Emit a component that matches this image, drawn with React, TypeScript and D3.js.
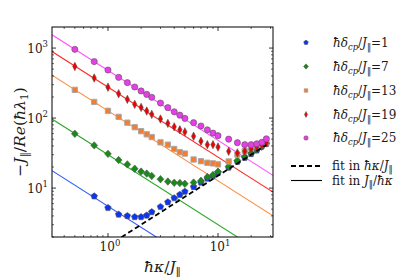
import React, { useRef, useEffect } from 'react'
import * as d3 from 'd3'

// hbar kappa / J values shared by every series
const xVals = [0.5, 0.75, 1, 1.25, 1.5, 1.75, 2, 2.25, 2.5, 3, 3.5, 4, 4.5, 5, 6, 7, 8, 9, 10, 12.5, 15, 17.5, 20, 22.5, 25, 27.5]

const blueVals = [7.64, 5.22, 4.2, 4.0, 3.87, 3.87, 4.07, 4.55, 5.4, 6.3, 7.2, 8.05, 8.9, 10.4, 12.0, 13.7, 14.9, 16.6, 19.6, 23.8, 27.1, 30.8, 34.6, 39.4, 43]
const greenVals = [59.6, 40.7, 30.8, 25.1, 21.8, 18.9, 17.2, 16.1, 14.9, 13.4, 12.4, 11.9, 11.8, 11.5, 12.0, 12.7, 14.4, 15.4, 17.2, 20.4, 24.8, 28.2, 31.6, 35.5, 39, 43.7]
const orangeVals = [253, 170, 127, 104, 86, 74, 65, 58.6, 53.5, 45, 41.7, 36.2, 32.5, 31.1, 25.6, 24.2, 23, 22.5, 21.8, 24, 30.1, 33.8, 37.4, 39.7, 41.7, 45]
const redVals = [546, 374, 276, 223, 185, 157, 142, 126, 113, 97, 84, 75, 68, 63.5, 55, 46.6, 41.7, 41.7, 38.6, 33.5, 31.8, 33.5, 36.2, 38.5, 41, 44]
const pinkVals = [959, 641, 486, 382, 321, 278, 244, 218, 198, 164, 141, 123, 110, 99, 86, 77, 68, 61, 56, 50, 44.5, 41.7, 41.7, 43, 45, 50.6]

const deltas = [1, 7, 13, 19, 25]
// coefficients of the J/hbar-kappa fits (y = A / x) and the hbar-kappa/J fit (y = B x)
const fitA = [5.5, 30, 127, 277, 480]
const fitB = 1.5
const fitBRange = [1, 27.5]

const xTicks = [1, 10]
const yTicks = [10, 100, 1000]

const series = [
  { vals: blueVals, xs: xVals.slice(1), shape: 'pentagon', fill: '#0b35f2', line: '#2f5cff' },
  { vals: greenVals, xs: xVals, shape: 'diamond', fill: '#178a17', line: '#2ea82e' },
  { vals: orangeVals, xs: xVals, shape: 'square', fill: '#f47c2c', line: '#ff8a3a' },
  { vals: redVals, xs: xVals, shape: 'thin', fill: '#f00000', line: '#ff2a2a' },
  { vals: pinkVals, xs: xVals, shape: 'circle', fill: '#e83ee8', line: '#ff55ff' }
]

const markerPath = (shape, r) => {
  if (shape === 'circle') return d3.symbol(d3.symbolCircle, Math.PI * r * r)()
  if (shape === 'square') return d3.symbol(d3.symbolSquare, (r * 1.7) ** 2)()
  let pts
  if (shape === 'pentagon') {
    pts = d3.range(5).map(k => {
      const a = -Math.PI / 2 + (k * 2 * Math.PI) / 5
      return [Math.cos(a) * r * 1.1, Math.sin(a) * r * 1.1]
    })
  } else if (shape === 'diamond') {
    pts = [[0, -r * 1.2], [r * 1.1, 0], [0, r * 1.2], [-r * 1.1, 0]]
  } else {
    pts = [[0, -r * 1.35], [r * 0.7, 0], [0, r * 1.35], [-r * 0.7, 0]]
  }
  return 'M' + pts.map(p => p.join(',')).join('L') + 'Z'
}

const serif = 'DejaVu Serif'

const App = () => {
  const svgRef = useRef()
  const width = 415
  const height = 277
  const margin = { left: 52, top: 27, right: 142, bottom: 40 }

  useEffect(() => {
    const svg = d3.select(svgRef.current)
    svg.selectAll('*').remove()

    const x = d3.scaleLog().domain([0.31, 31.6]).range([margin.left, width - margin.right])
    const y = d3.scaleLog().domain([2, 2000]).range([height - margin.bottom, margin.top])
    const [x0, x1] = x.range()
    const [y0, y1] = y.range()

    svg
      .append('clipPath')
      .attr('id', 'plotclip')
      .append('rect')
      .attr('x', x0)
      .attr('y', y1)
      .attr('width', x1 - x0)
      .attr('height', y0 - y1)

    const plot = svg.append('g').attr('clip-path', 'url(#plotclip)')
    const line = d3
      .line()
      .x(d => x(d[0]))
      .y(d => y(d[1]))

    // J/hbar kappa fits
    series.forEach((s, i) => {
      const [a, b] = x.domain()
      plot
        .append('path')
        .attr('d', line([[a, fitA[i] / a], [b, fitA[i] / b]]))
        .attr('fill', 'none')
        .attr('stroke', s.line)
        .attr('stroke-width', 1.1)
    })

    // data points
    series.forEach(s => {
      plot
        .append('g')
        .selectAll('path')
        .data(s.vals)
        .join('path')
        .attr('transform', (d, j) => `translate(${x(s.xs[j])},${y(d)})`)
        .attr('d', markerPath(s.shape, 3.1))
        .attr('fill', s.fill)
        .attr('stroke', s.shape === 'square' ? '#a8a8a8' : '#555')
        .attr('stroke-width', s.shape === 'square' ? 1 : 0.6)
    })

    // hbar kappa / J fit
    plot
      .append('path')
      .attr('d', line(fitBRange.map(v => [v, fitB * v])))
      .attr('fill', 'none')
      .attr('stroke', '#000')
      .attr('stroke-width', 1.8)
      .attr('stroke-dasharray', '5,3')

    // frame and ticks (inward, all four sides)
    const axes = svg.append('g').attr('stroke', '#000')
    const xMinor = [0.4, 0.5, 0.6, 0.7, 0.8, 0.9, 2, 3, 4, 5, 6, 7, 8, 9, 20, 30]
    const yMinor = d3.range(2, 10).flatMap(m => [m, m * 10, m * 100])
    const tick = (x1_, y1_, x2_, y2_, w) =>
      axes.append('line').attr('x1', x1_).attr('y1', y1_).attr('x2', x2_).attr('y2', y2_).attr('stroke-width', w)
    xTicks.forEach(t => {
      tick(x(t), y0, x(t), y0 - 4, 0.8)
      tick(x(t), y1, x(t), y1 + 4, 0.8)
    })
    xMinor.forEach(t => {
      tick(x(t), y0, x(t), y0 - 2, 0.6)
      tick(x(t), y1, x(t), y1 + 2, 0.6)
    })
    yTicks.forEach(t => {
      tick(x0, y(t), x0 + 4, y(t), 0.8)
      tick(x1, y(t), x1 - 4, y(t), 0.8)
    })
    yMinor.forEach(t => {
      tick(x0, y(t), x0 + 2, y(t), 0.6)
      tick(x1, y(t), x1 - 2, y(t), 0.6)
    })
    axes
      .append('rect')
      .attr('x', x0)
      .attr('y', y1)
      .attr('width', x1 - x0)
      .attr('height', y0 - y1)
      .attr('fill', 'none')
      .attr('stroke-width', 1)

    const labels = svg.append('g').attr('font-family', serif).attr('fill', '#1a1a1a')
    const power = (g, v, px, py, anchor) => {
      const t = g
        .append('text')
        .attr('x', px)
        .attr('y', py)
        .attr('text-anchor', anchor)
        .attr('font-size', 12)
      t.append('tspan').text('10')
      t.append('tspan').attr('dy', -5.5).attr('font-size', 8.5).text(Math.round(Math.log10(v)))
    }
    xTicks.forEach(t => power(labels, t, x(t) + 2, 251, 'middle'))
    yTicks.forEach(t => power(labels, t, x0 - 4, y(t) + 4.5, 'end'))

    // math text helper: parts = [text, italic, shift]
    const mathText = (g, parts, px, py, size, anchor, rotate) => {
      const t = g
        .append('text')
        .attr('text-anchor', anchor)
        .attr('font-size', size)
        .attr('transform', `translate(${px},${py})${rotate ? ' rotate(-90)' : ''}`)
      let cur = 0
      parts.forEach(([txt, it, shift]) => {
        const sh = shift || 0
        t.append('tspan')
          .attr('dy', sh - cur)
          .attr('font-style', it ? 'italic' : 'normal')
          .attr('font-size', sh ? size * 0.7 : size)
          .text(txt)
        cur = sh
      })
      return t
    }

    mathText(
      labels,
      [['−', false], ['J', true], ['‖', false, 3], ['/', false], ['Re', true], ['(', false], ['ħλ', true], ['1', false, 3], [')', false]],
      25,
      (y0 + y1) / 2,
      15.5,
      'middle',
      true
    )
    mathText(labels, [['ħκ', true], ['/', false], ['J', true], ['‖', false, 3]], (x0 + x1) / 2, 272, 15.5, 'middle', false)

    // legend
    const legend = svg.append('g').attr('font-family', serif).attr('fill', '#1a1a1a')
    const rowY = [42.5, 66.5, 90.5, 114.5, 138]
    series.forEach((s, i) => {
      legend
        .append('path')
        .attr('transform', `translate(306,${rowY[i]})`)
        .attr('d', markerPath(s.shape, 2.2))
        .attr('fill', s.fill)
        .attr('stroke', s.shape === 'square' ? '#a8a8a8' : '#555')
        .attr('stroke-width', 0.5)
      mathText(
        legend,
        [['ħδ', true], ['cp', true, 3], ['/', false], ['J', true], ['‖', false, 3], ['=' + deltas[i], false]],
        333,
        rowY[i] + 4,
        12,
        'start',
        false
      )
    })
    legend
      .append('line')
      .attr('x1', 291)
      .attr('x2', 322)
      .attr('y1', 166)
      .attr('y2', 166)
      .attr('stroke', '#000')
      .attr('stroke-width', 1.8)
      .attr('stroke-dasharray', '5,3')
    legend
      .append('line')
      .attr('x1', 291)
      .attr('x2', 322)
      .attr('y1', 180.5)
      .attr('y2', 180.5)
      .attr('stroke', '#000')
      .attr('stroke-width', 1.1)
    mathText(legend, [['fit in ', false], ['ħκ', true], ['/', false], ['J', true], ['‖', false, 2]], 332, 169.5, 12, 'start', false)
    mathText(legend, [['fit in ', false], ['J', true], ['‖', false, 2], ['/', false], ['ħκ', true]], 332, 184.5, 12, 'start', false)
  }, [])

  return (
    <svg
      ref={svgRef}
      viewBox={`0,0,${width},${height}`}
      width={width}
      height={height}
      style={{ position: 'absolute', left: 0, top: 0, background: '#fff' }}
    />
  )
}

export default App
